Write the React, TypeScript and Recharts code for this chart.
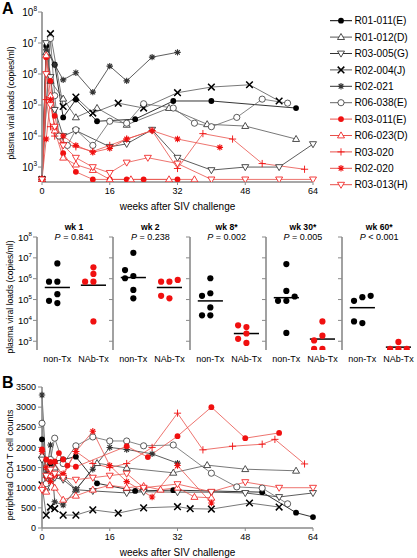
import React from "react";
import { LineChart, Line, XAxis, YAxis, ScatterChart, Scatter, ReferenceLine } from "recharts";

const FONT = "'Liberation Sans', Arial, Helvetica, sans-serif";
const AX = "#8a8a8a";
const RED = "#f01010";
const RED_LINE = "#e8504a";

// value used for "below detection" points along the bottom
const UND = 400;

const WEEK_TICKS = [0, 16, 32, 48, 64];
const VL_TICKS = [1e3, 1e4, 1e5, 1e6, 1e7, 1e8];
const CD4_TICKS = [0, 500, 1000, 1500, 2000, 2500, 3000, 3500];

// plasma viral loads, [week, copies/ml]
const vlR01_011 = [[0, UND], [1, 8e6], [3, 2e6], [5, 4e4], [8, 1.5e5], [13, 3e4], [22, 3.5e4], [31, 1.35e5], [40, 1.35e5], [60, 8e4]];
const vlR01_012 = [[0, UND], [1, 5e6], [2, 6e5], [5, 1.6e5], [8, 4e4], [13, 8e4], [20, 2.3e4], [30, 8e4], [39, 2.4e4], [48, 2.1e4], [60, 8e3]];
const vlR03_005 = [[0, UND], [1, 1e7], [2, 8e5], [3, 7e4], [5, 1e4], [8, 1.5e4], [16, 4.5e3], [20, 5.6e3], [26, 1.6e4], [32, 2e3], [40, 800], [48, 1e3], [56, 1e3], [64, 5.5e3]];
const vlR02_004 = [[0, UND], [2, 2e7], [5, 9e4], [8, 1.8e5], [12, 5.5e4], [18, 1.15e5], [24, 8e4], [32, 2.5e5], [40, 3.8e5], [49, 4.5e5], [56, 1.35e5]];
const vlR02_021 = [[0, UND], [1, 6e6], [3, 2e6], [5, 6.5e5], [8, 1.1e6], [12, 2.6e5], [16, 1.8e6], [20, 6e5], [26, 3.5e6], [32, 5e6]];
const vlR06_038 = [[0, UND], [2, 1.4e7], [3, 2e5], [4, 1e4], [6, 5e3], [8, 1.6e4], [12, 5e3], [16, 3e4], [20, 2.6e4], [24, 1.1e5], [31, 8e4], [36, 2.6e4], [40, 2e4], [46, 4e4], [52, 1.55e5], [58, 1.15e5]];
const vlR03_011 = [[0, UND], [1, 3.5e6], [2, 6e5], [3, 4.5e4], [5, 2.8e3], [8, 700], [12, UND], [16, UND], [20, UND], [24, UND], [32, UND]];
const vlR06_023 = [[0, UND], [1, 4e6], [2, 2e5], [3, 1.5e4], [5, 2e3], [8, 1.2e3], [12, 800], [16, UND], [21, UND], [30, UND], [36, UND]];
const vlR03_020 = [[0, UND], [1, 1.5e5], [2, 2e4], [3, 1e4], [5, 6e3], [8, 4.5e3], [12, 3.2e3], [16, 5e3], [20, 8e3], [26, 1.5e4], [32, 900], [38, 1.2e4], [45, 8e3], [52, 1.3e3], [62, 850]];
const vlR02_020 = [[0, UND], [1, 8e3], [2, 1.5e5], [3, 2e4], [5, 1e4], [8, 5e3], [12, 3e3], [16, 4e3], [20, 8e3], [26, 1.5e4], [32, 8e3], [42, 4.3e3]];
const vlR03_013 = [[0, UND], [1, 1e6], [2, 1e5], [3, 2e4], [5, 5e3], [8, 2e3], [12, 1e3], [16, 650], [20, 1.4e3], [25, 2e3], [32, 1.3e3], [40, UND], [48, UND], [56, UND], [64, UND]];

// peripheral CD4 T cell counts, [week, cells]
const cdR01_011 = [[0, 2200], [1, 1300], [2, 1600], [3, 1650], [5, 1700], [8, 1770], [13, 1110], [22, 920], [31, 940], [52, 890], [60, 380], [64, 270]];
const cdR01_012 = [[0, 1800], [1, 1000], [2, 1400], [3, 1500], [5, 1300], [8, 950], [13, 1610], [20, 1490], [31, 1370], [39, 1560], [48, 1460], [60, 1420]];
const cdR03_005 = [[0, 1700], [1, 1000], [2, 1300], [3, 1250], [5, 1200], [8, 950], [12, 920], [20, 870], [24, 900], [32, 890], [40, 890], [48, 870], [56, 770], [64, 870]];
const cdR02_004 = [[0, 1070], [1, 320], [2, 520], [3, 480], [5, 320], [8, 320], [12, 450], [18, 370], [24, 500], [32, 530], [35, 480], [40, 470], [49, 620], [56, 520]];
const cdR02_021 = [[0, 3300], [1, 1320], [2, 2060], [3, 650], [5, 570], [8, 950], [12, 1460], [16, 2000], [20, 1950], [26, 1840], [32, 1610]];
const cdR06_038 = [[0, 2600], [1, 1100], [2, 1700], [3, 2230], [5, 1600], [8, 2040], [12, 2260], [16, 2160], [20, 2160], [24, 2040], [31, 2060], [40, 1360], [46, 1020], [52, 990], [58, 600]];
const cdR03_011 = [[0, 1950], [1, 1700], [2, 1640], [3, 1650], [4, 1860], [5, 1700], [6, 1550], [8, 1520], [20, 2030], [25, 1760], [32, 2280], [40, 3000], [48, 2230], [56, 2360]];
const cdR06_023 = [[0, 1050], [1, 900], [2, 1300], [3, 1000], [5, 700], [8, 800], [12, 950], [16, 1060], [20, 1000], [24, 1040], [28, 950], [32, 1000], [36, 770], [40, 750]];
const cdR03_020 = [[0, 1000], [1, 1250], [2, 1400], [3, 1600], [5, 1300], [8, 1900], [12, 1600], [16, 1500], [20, 1600], [26, 2000], [32, 2850], [38, 1940], [45, 2030], [52, 2080], [55, 2200], [62, 1590]];
const cdR02_020 = [[0, 1900], [1, 1500], [2, 1150], [3, 1300], [5, 1350], [8, 1900], [12, 2400], [16, 1550], [20, 1150], [26, 770], [32, 1550], [40, 620]];
const cdR03_013 = [[0, 950], [1, 1300], [2, 1450], [3, 1350], [5, 1250], [8, 1200], [12, 1250], [16, 1300], [20, 1350], [24, 1000], [32, 1090], [40, 900], [48, 1140], [56, 1000], [64, 1000]];

// single-timepoint viral loads per group
const WK_TITLES = ["wk 1", "wk 2", "wk 8*", "wk 30*", "wk 60*"];
const P_TEXT = ["= 0.841", "= 0.238", "= 0.002", "= 0.005", "< 0.001"];
const GROUPS = ["non-Tx", "NAb-Tx"];
const nonTx = [
  [7.2e5, 7.2e5, 5.4e6, 1.8e5, 6.8e4, 8.7e4],
  [1.35e6, 1.05e6, 1.75e7, 2.6e6, 1.15e5, 2.9e5],
  [2e5, 1.05e6, 1.5e5, 4.2e4, 1.75e4, 1.75e4],
  [5e6, 2.6e5, 8.7e4, 8.7e4, 1.4e5, 2.5e3],
  [1.3e5, 8.7e4, 1.5e5, 7.4e3, 8.9e3],
];
const nabTx = [
  [7.2e5, 7.2e5, 3.5e6, 1.7e6, 8.9e3],
  [7.2e5, 7.2e5, 8.7e5, 1.15e5, 1.5e5],
  [4.8e3, 2.35e3, 5.8e3, 830, 1.3e3],
  [8.9e3, 1.85e3, 1.1e3, 430, 430],
  [430, 430, 430, 930],
];

type Kind = "dot" | "ring" | "tri" | "triDown" | "cross" | "star" | "plus";

const SERIES: { name: string; kind: Kind; mark: string; line: string; vl: number[][]; cd: number[][] }[] = [
  { name: "R01-011(E)", kind: "dot", mark: "#000", line: "#000", vl: vlR01_011, cd: cdR01_011 },
  { name: "R01-012(D)", kind: "tri", mark: "#222", line: "#555", vl: vlR01_012, cd: cdR01_012 },
  { name: "R03-005(G)", kind: "triDown", mark: "#222", line: "#333", vl: vlR03_005, cd: cdR03_005 },
  { name: "R02-004(J)", kind: "cross", mark: "#000", line: "#555", vl: vlR02_004, cd: cdR02_004 },
  { name: "R02-021", kind: "star", mark: "#333", line: "#333", vl: vlR02_021, cd: cdR02_021 },
  { name: "R06-038(E)", kind: "ring", mark: "#333", line: "#666", vl: vlR06_038, cd: cdR06_038 },
  { name: "R03-011(E)", kind: "dot", mark: RED, line: RED_LINE, vl: vlR03_011, cd: cdR03_011 },
  { name: "R06-023(D)", kind: "tri", mark: RED, line: RED_LINE, vl: vlR06_023, cd: cdR06_023 },
  { name: "R03-020", kind: "plus", mark: RED, line: RED_LINE, vl: vlR03_020, cd: cdR03_020 },
  { name: "R02-020", kind: "star", mark: RED, line: RED_LINE, vl: vlR02_020, cd: cdR02_020 },
  { name: "R03-013(H)", kind: "triDown", mark: RED, line: RED_LINE, vl: vlR03_013, cd: cdR03_013 },
];

function Marker({ kind, color, cx, cy }: { kind: Kind; color: string; cx?: number; cy?: number }) {
  if (cx == null || cy == null || isNaN(cx) || isNaN(cy)) return null;
  switch (kind) {
    case "dot":
      return <circle cx={cx} cy={cy} r={2.9} fill={color} />;
    case "ring":
      return <circle cx={cx} cy={cy} r={3.1} fill="#fff" stroke={color} strokeWidth={0.8} />;
    case "tri":
      return <polygon points={`${cx},${cy - 3.6} ${cx - 3.5},${cy + 2.4} ${cx + 3.5},${cy + 2.4}`} fill="#fff" stroke={color} strokeWidth={0.8} />;
    case "triDown":
      return <polygon points={`${cx},${cy + 3.6} ${cx - 3.5},${cy - 2.4} ${cx + 3.5},${cy - 2.4}`} fill="#fff" stroke={color} strokeWidth={0.8} />;
    case "cross":
      return <path d={`M${cx - 3.3},${cy - 3.3}L${cx + 3.3},${cy + 3.3}M${cx - 3.3},${cy + 3.3}L${cx + 3.3},${cy - 3.3}`} stroke={color} strokeWidth={1.5} />;
    case "star":
      return (
        <path
          d={`M${cx},${cy - 3.2}V${cy + 3.2}M${cx - 3.2},${cy}H${cx + 3.2}M${cx - 2.3},${cy - 2.3}L${cx + 2.3},${cy + 2.3}M${cx - 2.3},${cy + 2.3}L${cx + 2.3},${cy - 2.3}`}
          stroke={color}
          strokeWidth={1.1}
        />
      );
    case "plus":
      return <path d={`M${cx - 3.6},${cy}H${cx + 3.6}M${cx},${cy - 3.6}V${cy + 3.6}`} stroke={color} strokeWidth={0.9} />;
  }
  return null;
}

const dotFor = (kind: Kind, color: string) => (p: any) => <Marker key={`m${p.index}`} kind={kind} color={color} cx={p.cx} cy={p.cy} />;

const pts = (arr: number[][]) => arr.map(([w, v]) => ({ w, v }));

function PowTick({ x, y, payload, fs = 10, show = true }: any) {
  if (!show) return <g />;
  const e = Math.round(Math.log10(payload.value));
  return (
    <text x={x} y={y + fs * 0.38} textAnchor="end" fontSize={fs} fontFamily={FONT} fill="#000">
      10
      <tspan dy={-fs * 0.45} fontSize={fs * 0.65}>
        {e}
      </tspan>
    </text>
  );
}

// spread points with similar values sideways
function swarm(vals: number[], center: number) {
  const placed: { l: number; slot: number }[] = [];
  return vals.map((v) => {
    const l = Math.log10(v);
    const used = placed.filter((p) => Math.abs(p.l - l) < 0.3).map((p) => p.slot);
    const slot = [0, -1, 1, -2, 2].find((s) => !used.includes(s)) ?? 0;
    placed.push({ l, slot });
    return { x: center + slot * 0.45, y: v };
  });
}

const geoMean = (vals: number[]) => Math.pow(10, vals.reduce((a, v) => a + Math.log10(v), 0) / vals.length);

const GROUP_X = [1.1, 3.05];
const PANEL_AXIS = [37, 113.3, 189.6, 265.9, 342.2];

function TimeCourse({ top, height, mode }: { top: number; height: number; mode: "vl" | "cd" }) {
  const isVl = mode === "vl";
  return (
    <div style={{ position: "absolute", left: 0, top }}>
      <LineChart width={417} height={height} margin={{ top: 12, right: 104, bottom: 0, left: 0 }}>
        <XAxis
          dataKey="w"
          type="number"
          domain={[0, 64]}
          ticks={WEEK_TICKS}
          interval={0}
          height={isVl ? 28 : 17}
          axisLine={{ stroke: AX, strokeWidth: 1.6 }}
          tickLine={{ stroke: AX }}
          tickSize={3}
          tickMargin={3}
          tick={{ fontSize: 9, fill: "#000", fontFamily: FONT }}
        />
        {isVl ? (
          <YAxis
            type="number"
            scale="log"
            domain={[330, 1e8]}
            allowDataOverflow
            ticks={VL_TICKS}
            interval={0}
            width={42}
            axisLine={{ stroke: AX, strokeWidth: 1.6 }}
            tickLine={{ stroke: AX }}
            tickSize={4}
            tickMargin={1}
            tick={<PowTick fs={10} />}
          />
        ) : (
          <YAxis
            type="number"
            domain={[0, 3500]}
            ticks={CD4_TICKS}
            interval={0}
            width={42}
            axisLine={{ stroke: AX, strokeWidth: 1.6 }}
            tickLine={{ stroke: AX }}
            tickSize={4}
            tickMargin={2}
            tick={{ fontSize: 9, fill: "#000", fontFamily: FONT }}
          />
        )}
        {SERIES.map((s) => (
          <Line
            key={s.name}
            data={pts(isVl ? s.vl : s.cd)}
            dataKey="v"
            type="linear"
            stroke={s.line}
            strokeWidth={0.8}
            dot={dotFor(s.kind, s.mark)}
            activeDot={false}
            isAnimationActive={false}
          />
        ))}
      </LineChart>
    </div>
  );
}

function GroupPanel({ i }: { i: number }) {
  const non = swarm(nonTx[i], GROUP_X[0]);
  const nab = swarm(nabTx[i], GROUP_X[1]);
  const gm0 = geoMean(nonTx[i]);
  const gm1 = geoMean(nabTx[i]);
  return (
    <div style={{ position: "absolute", left: PANEL_AXIS[i] - 30, top: 226 }}>
      <ScatterChart width={104} height={142} margin={{ top: 11, right: 0, bottom: 0, left: 0 }}>
        <XAxis
          dataKey="x"
          type="number"
          domain={[0, 4]}
          ticks={GROUP_X}
          interval={0}
          tickFormatter={(v: number) => (v < 2 ? GROUPS[0] : GROUPS[1])}
          height={18}
          axisLine={false}
          tickLine={false}
          tickSize={0}
          tickMargin={6}
          tick={{ fontSize: 9, fill: "#000", fontFamily: FONT }}
        />
        <YAxis
          dataKey="y"
          type="number"
          scale="log"
          domain={[380, 1e8]}
          allowDataOverflow
          ticks={VL_TICKS}
          interval={0}
          width={30}
          axisLine={{ stroke: AX, strokeWidth: 1.6 }}
          tickLine={{ stroke: AX }}
          tickSize={4}
          tickMargin={1}
          tick={<PowTick fs={9.5} show={i === 0} />}
        />
        <ReferenceLine segment={[{ x: GROUP_X[0] - 0.68, y: gm0 }, { x: GROUP_X[0] + 0.68, y: gm0 }]} stroke="#000" strokeWidth={1.5} />
        <ReferenceLine segment={[{ x: GROUP_X[1] - 0.68, y: gm1 }, { x: GROUP_X[1] + 0.68, y: gm1 }]} stroke="#000" strokeWidth={1.5} />
        <Scatter data={non} isAnimationActive={false} shape={(p: any) => <circle cx={p.cx} cy={p.cy} r={3.1} fill="#000" />} />
        <Scatter data={nab} isAnimationActive={false} shape={(p: any) => <circle cx={p.cx} cy={p.cy} r={3.1} fill={RED} />} />
      </ScatterChart>
    </div>
  );
}

function Legend() {
  return (
    <svg style={{ position: "absolute", left: 0, top: 0 }} width={417} height={200}>
      {SERIES.map((s, i) => {
        const y = 20.7 + i * 16.4;
        return (
          <g key={s.name}>
            <line x1={330} x2={352} y1={y} y2={y} stroke={s.line} strokeWidth={1} />
            <Marker kind={s.kind} color={s.mark} cx={341} cy={y} />
            <text x={354.5} y={y + 3.6} fontSize={10.2} fontFamily={FONT} fill="#000">
              {s.name}
            </text>
          </g>
        );
      })}
    </svg>
  );
}

function Labels() {
  const t = { fontFamily: FONT, fill: "#000" };
  return (
    <svg style={{ position: "absolute", left: 0, top: 0, pointerEvents: "none" }} width={417} height={558}>
      <text x={2} y={14} fontSize={16} fontWeight="bold" {...t}>A</text>
      <text x={2} y={388} fontSize={16} fontWeight="bold" {...t}>B</text>
      <text transform="translate(13.5,103) rotate(-90)" textAnchor="middle" fontSize={8.6} {...t}>plasma viral loads (copies/ml)</text>
      <text transform="translate(13,297) rotate(-90)" textAnchor="middle" fontSize={8.6} {...t}>plasma viral loads (copies/ml)</text>
      <text transform="translate(13,465) rotate(-90)" textAnchor="middle" fontSize={8.8} {...t}>peripheral CD4 T cell counts</text>
      <text x={177.5} y={209.5} textAnchor="middle" fontSize={10} {...t}>weeks after SIV challenge</text>
      <text x={177.5} y={556} textAnchor="middle" fontSize={10} {...t}>weeks after SIV challenge</text>
      {WK_TITLES.map((w, i) => (
        <g key={w}>
          <text x={PANEL_AXIS[i] + 37} y={230} textAnchor="middle" fontSize={8.6} fontWeight="bold" {...t}>{w}</text>
          <text x={PANEL_AXIS[i] + 37} y={239.5} textAnchor="middle" fontSize={9} {...t}>
            <tspan fontStyle="italic">P</tspan> {P_TEXT[i]}
          </text>
        </g>
      ))}
    </svg>
  );
}

export default function App() {
  return (
    <div style={{ position: "absolute", left: 0, top: 0, width: 417, height: 558, background: "#fff", fontFamily: FONT }}>
      <TimeCourse top={0} height={210} mode="vl" />
      <Legend />
      {WK_TITLES.map((_, i) => (
        <GroupPanel key={i} i={i} />
      ))}
      <TimeCourse top={375} height={170} mode="cd" />
      <Labels />
    </div>
  );
}
